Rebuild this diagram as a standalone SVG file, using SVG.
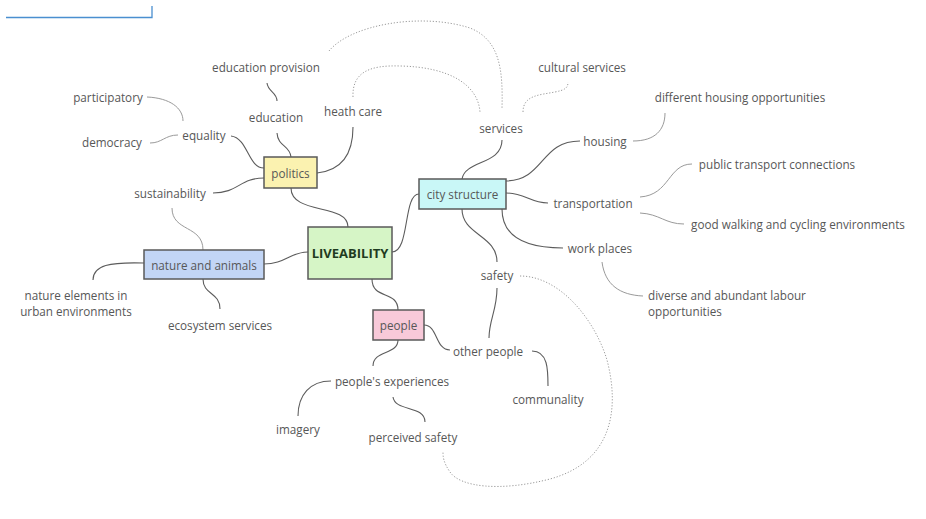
<svg xmlns="http://www.w3.org/2000/svg" width="926" height="519" viewBox="0 0 926 519">
<style>
text{font-family:"Open Sans","Noto Sans","Liberation Sans",sans-serif;font-size:11.7px;fill:#575757;text-anchor:middle;dominant-baseline:central}
.box{stroke:#5a5a5a;stroke-width:1.5}
.c1{fill:none;stroke:#5c5c5c;stroke-width:1.1}
.c2{fill:none;stroke:#9a9a9a;stroke-width:1}
.dot{fill:none;stroke:#9a9a9a;stroke-width:1;stroke-dasharray:1.2 1.8}
.lv{font-weight:bold;font-size:13px;fill:#1f3b1f}
</style>
<rect width="926" height="519" fill="#fff"/>
<path d="M6,17.5H152V6" fill="none" stroke="#4a8fd0" stroke-width="1.3"/>
<g id="connectors">
<path class="c1" d="M291,188 C291,215 348,203 348,227"/>
<path class="c1" d="M392,252 C410,252 403,194 419,194"/>
<path class="c1" d="M264,264 C285,264 290,252 308,252"/>
<path class="c1" d="M372,279 C372,300 398,290 398,310"/>
<path class="c1" d="M231,136 C248,138 248,168 264,168"/>
<path class="c1" d="M277,133 C278,147 290,145 291,157"/>
<path class="c1" d="M213,193 C238,193 240,178 264,178"/>
<path class="c1" d="M317,173 C345,170 353,150 353,127"/>
<path class="c1" d="M267,83 C268,92 277,92 277,101"/>
<path class="c2" d="M147,97 C170,98 183,108 183,121"/>
<path class="c2" d="M150,143 C162,143 165,135 178,135"/>
<path class="c1" d="M462,179 C465,160 502,165 502,140"/>
<path class="c1" d="M506,181 C545,180 540,141 580,141"/>
<path class="c1" d="M506,193 C525,193 530,203 548,203"/>
<path class="c1" d="M502,209 C502,240 530,248 563,248"/>
<path class="c1" d="M462,209 C462,235 497,235 497,262"/>
<path class="c1" d="M497,288 C497,310 489,320 489,338"/>
<path class="c2" d="M633,141 C655,141 665,130 665,113"/>
<path class="c2" d="M640,197 C670,195 668,164 692,164"/>
<path class="c2" d="M640,213 C660,214 665,224 684,224"/>
<path class="c2" d="M602,262 C605,285 620,295 643,296"/>
<path class="c1" d="M424,325 C438,325 435,350 450,350"/>
<path class="c1" d="M398,340 C398,355 373,350 373,366"/>
<path class="c1" d="M331,381 C310,381 298,395 298,416"/>
<path class="c1" d="M393,397 C395,412 425,405 425,422"/>
<path class="c1" d="M532,351 C548,351 548,370 548,386"/>
<path class="c1" d="M144,263 C110,262 93,265 93,280"/>
<path class="c1" d="M203,279 C203,295 220,292 220,309"/>
<path class="c2" d="M172,208 C172,232 203,225 203,250"/>
<path class="dot" d="M329,51 C350,25 420,12 470,28 C500,40 503,70 502,108"/>
<path class="dot" d="M353,97 C352,72 370,65 400,66 C450,67 478,85 480,112"/>
<path class="dot" d="M523,112 C523,95 540,95 555,92 C565,90 568,88 568,82"/>
<path class="dot" d="M520,276 C560,276 595,320 607,360 C620,410 612,462 550,479 C500,492 460,487 450,472 C443,462 443,456 443,452"/>
</g>
<g id="liveability"><rect class="box" x="308" y="227" width="84" height="52" fill="#d6f5c6"/><text class="lv" x="350" y="253">LIVEABILITY</text></g>
<g id="politics"><rect class="box" x="264" y="157" width="53" height="31" fill="#fbf2b0"/><text x="290.5" y="173">politics</text></g>
<g id="city-structure"><rect class="box" x="419" y="179" width="87" height="30" fill="#c9f7f7"/><text x="462.5" y="194">city structure</text></g>
<g id="nature-and-animals"><rect class="box" x="144" y="250" width="120" height="29" fill="#c2d5f5"/><text x="204" y="265">nature and animals</text></g>
<g id="people"><rect class="box" x="373" y="310" width="51" height="30" fill="#f8c9d9"/><text x="398.5" y="325">people</text></g>
<g id="education-provision"><text x="266" y="67">education provision</text></g>
<g id="participatory"><text x="108" y="97">participatory</text></g>
<g id="education"><text x="276" y="117">education</text></g>
<g id="democracy"><text x="112" y="142">democracy</text></g>
<g id="equality"><text x="204" y="135">equality</text></g>
<g id="sustainability"><text x="170" y="193">sustainability</text></g>
<g id="heath-care"><text x="353" y="111">heath care</text></g>
<g id="services"><text x="501" y="128">services</text></g>
<g id="cultural-services"><text x="582" y="67">cultural services</text></g>
<g id="housing"><text x="605" y="141">housing</text></g>
<g id="different-housing"><text x="740" y="97">different housing opportunities</text></g>
<g id="public-transport"><text x="777" y="164">public transport connections</text></g>
<g id="transportation"><text x="593" y="203">transportation</text></g>
<g id="good-walking"><text x="798" y="224">good walking and cycling environments</text></g>
<g id="work-places"><text x="600" y="248">work places</text></g>
<g id="safety"><text x="497" y="275">safety</text></g>
<g id="diverse-labour"><text x="648" y="295" style="text-anchor:start">diverse and abundant labour</text><text x="648" y="311" style="text-anchor:start">opportunities</text></g>
<g id="nature-elements"><text x="76" y="295">nature elements in</text><text x="76" y="311">urban environments</text></g>
<g id="ecosystem-services"><text x="220" y="325">ecosystem services</text></g>
<g id="other-people"><text x="488" y="351">other people</text></g>
<g id="peoples-experiences"><text x="392" y="381">people's experiences</text></g>
<g id="communality"><text x="548" y="399">communality</text></g>
<g id="imagery"><text x="298" y="429">imagery</text></g>
<g id="perceived-safety"><text x="413" y="437">perceived safety</text></g>
</svg>
